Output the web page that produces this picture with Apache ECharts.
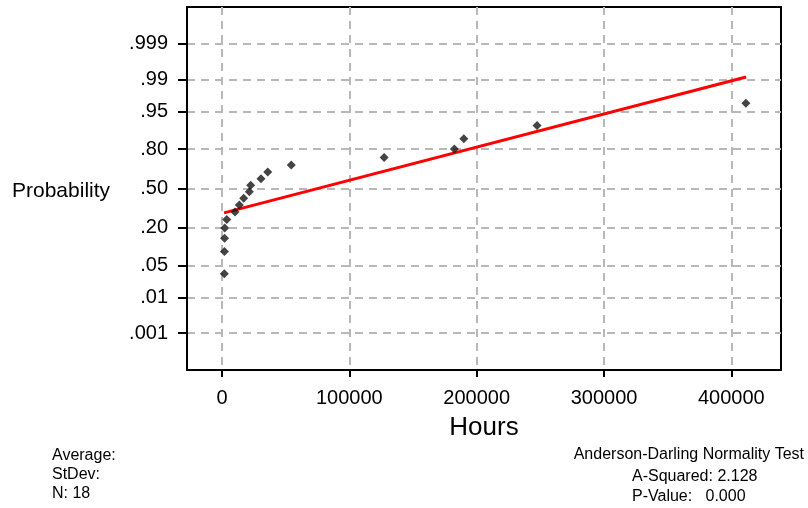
<!DOCTYPE html>
<html>
<head>
<meta charset="utf-8">
<script src="https://cdn.jsdelivr.net/npm/echarts@6/dist/echarts.min.js"></script>
<style>
  html, body { margin: 0; padding: 0; background: #fff; }
  #chart { width: 808px; height: 508px; }
</style>
</head>
<body>
<div id="chart"></div>
<script>
// Observed failure times (hours), sorted ascending
const hours = [1800, 1900, 2000, 2100, 3700, 10200, 13600, 17000, 21500, 22500,
               30600, 35900, 54400, 127300, 182500, 189900, 247400, 411400];
// Plotting positions (cumulative probability) of each ordered observation
const probability = [0.034, 0.089, 0.144, 0.199, 0.253, 0.308, 0.363, 0.418, 0.473,
                     0.527, 0.582, 0.637, 0.692, 0.747, 0.801, 0.856, 0.911, 0.966];
// Fitted normal line end points
const fitHours = [1600, 411600];
const fitProbability = [0.3015, 0.9914];

// Axis ticks
const probTicks = [0.001, 0.01, 0.05, 0.20, 0.50, 0.80, 0.95, 0.99, 0.999];
const probTickLabels = ['.001', '.01', '.05', '.20', '.50', '.80', '.95', '.99', '.999'];
const hourTicks = [0, 100000, 200000, 300000, 400000];

// Footer text
const summaryLeft = ['Average:', 'StDev:', 'N: 18'];
const summaryRight = ['Anderson-Darling Normality Test', 'A-Squared: 2.128', 'P-Value:   0.000'];

// Inverse standard normal CDF (Acklam's rational approximation) - maps a
// probability onto the normal-score axis
function probit(p) {
  const a = [-3.969683028665376e+01, 2.209460984245205e+02, -2.759285104469687e+02,
             1.383577518672690e+02, -3.066479806614716e+01, 2.506628277459239e+00];
  const b = [-5.447609879822406e+01, 1.615858368580409e+02, -1.556989798598866e+02,
             6.680131188771972e+01, -1.328068155288572e+01];
  const c = [-7.784894002430293e-03, -3.223964580411365e-01, -2.400758277161838e+00,
             -2.549732539343734e+00, 4.374664141464968e+00, 2.938163982698783e+00];
  const d = [7.784695709041462e-03, 3.224671290700398e-01, 2.445134137142996e+00,
             3.754408661907416e+00];
  const pl = 0.02425, ph = 1 - pl;
  let q, r;
  if (p < pl) {
    q = Math.sqrt(-2 * Math.log(p));
    return (((((c[0]*q+c[1])*q+c[2])*q+c[3])*q+c[4])*q+c[5]) /
           ((((d[0]*q+d[1])*q+d[2])*q+d[3])*q+1);
  }
  if (p <= ph) {
    q = p - 0.5; r = q * q;
    return (((((a[0]*r+a[1])*r+a[2])*r+a[3])*r+a[4])*r+a[5])*q /
           (((((b[0]*r+b[1])*r+b[2])*r+b[3])*r+b[4])*r+1);
  }
  q = Math.sqrt(-2 * Math.log(1 - p));
  return -(((((c[0]*q+c[1])*q+c[2])*q+c[3])*q+c[4])*q+c[5]) /
          ((((d[0]*q+d[1])*q+d[2])*q+d[3])*q+1);
}

const probTickScores = probTicks.map(probit);
function probLabel(v) {
  let best = 0;
  probTickScores.forEach((s, i) => {
    if (Math.abs(s - v) < Math.abs(probTickScores[best] - v)) best = i;
  });
  return probTickLabels[best];
}

const points = hours.map((h, i) => [h, probit(probability[i])]);
const fitLine = fitHours.map((h, i) => [h, probit(fitProbability[i])]);

const FONT = 'Liberation Sans, Arial, sans-serif';
const gridDash = { color: '#b8b8b8', width: 2, type: [8, 6] };

const chart = echarts.init(document.getElementById('chart'), null, { renderer: 'canvas' });
chart.setOption({
  animation: false,
  backgroundColor: '#fff',
  grid: {
    left: 187, top: 7, width: 594, height: 363,
    show: true, borderColor: '#000', borderWidth: 2, backgroundColor: 'transparent'
  },
  xAxis: {
    type: 'value',
    min: -27500, max: 439000,
    name: 'Hours',
    nameLocation: 'middle',
    nameGap: 45,
    nameTextStyle: { fontFamily: FONT, fontSize: 26, color: '#000' },
    axisLine: { show: true, onZero: false, lineStyle: { color: '#000', width: 2 } },
    axisTick: { show: true, length: 7, customValues: hourTicks, lineStyle: { color: '#000', width: 2 } },
    axisLabel: {
      customValues: hourTicks, margin: 18,
      fontFamily: FONT, fontSize: 20, color: '#000',
      formatter: v => String(v)
    },
    splitLine: { show: true, lineStyle: gridDash }
  },
  yAxis: {
    type: 'value',
    min: -3.88, max: 3.88,
    axisLine: { show: true, onZero: false, lineStyle: { color: '#000', width: 2 } },
    axisTick: { show: true, length: 9, customValues: probTickScores, lineStyle: { color: '#000', width: 2 } },
    axisLabel: {
      customValues: probTickScores, margin: 19,
      fontFamily: FONT, fontSize: 20, color: '#000',
      formatter: v => probLabel(v)
    },
    splitLine: { show: true, lineStyle: gridDash }
  },
  series: [
    {
      name: 'Fit',
      type: 'line',
      data: fitLine,
      symbol: 'none',
      lineStyle: { color: '#ff0000', width: 3 },
      z: 3
    },
    {
      name: 'Hours',
      type: 'scatter',
      data: points,
      symbol: 'diamond',
      symbolSize: 9,
      itemStyle: { color: '#151515' },
      z: 4
    }
  ],
  graphic: [
    {
      type: 'text', left: 12, top: 181,
      style: { text: 'Probability', font: '21px ' + FONT, fill: '#000' }
    },
    {
      type: 'text', left: 52, top: 446,
      style: { text: summaryLeft.join('\n'), font: '16px ' + FONT, fill: '#000', lineHeight: 19 }
    },
    {
      type: 'text', right: 4, top: 447,
      style: { text: summaryRight[0], font: '16px ' + FONT, fill: '#000' }
    },
    {
      type: 'text', left: 632, top: 467,
      style: { text: summaryRight.slice(1).join('\n'), font: '16px ' + FONT, fill: '#000', lineHeight: 20 }
    }
  ]
});
</script>
</body>
</html>
